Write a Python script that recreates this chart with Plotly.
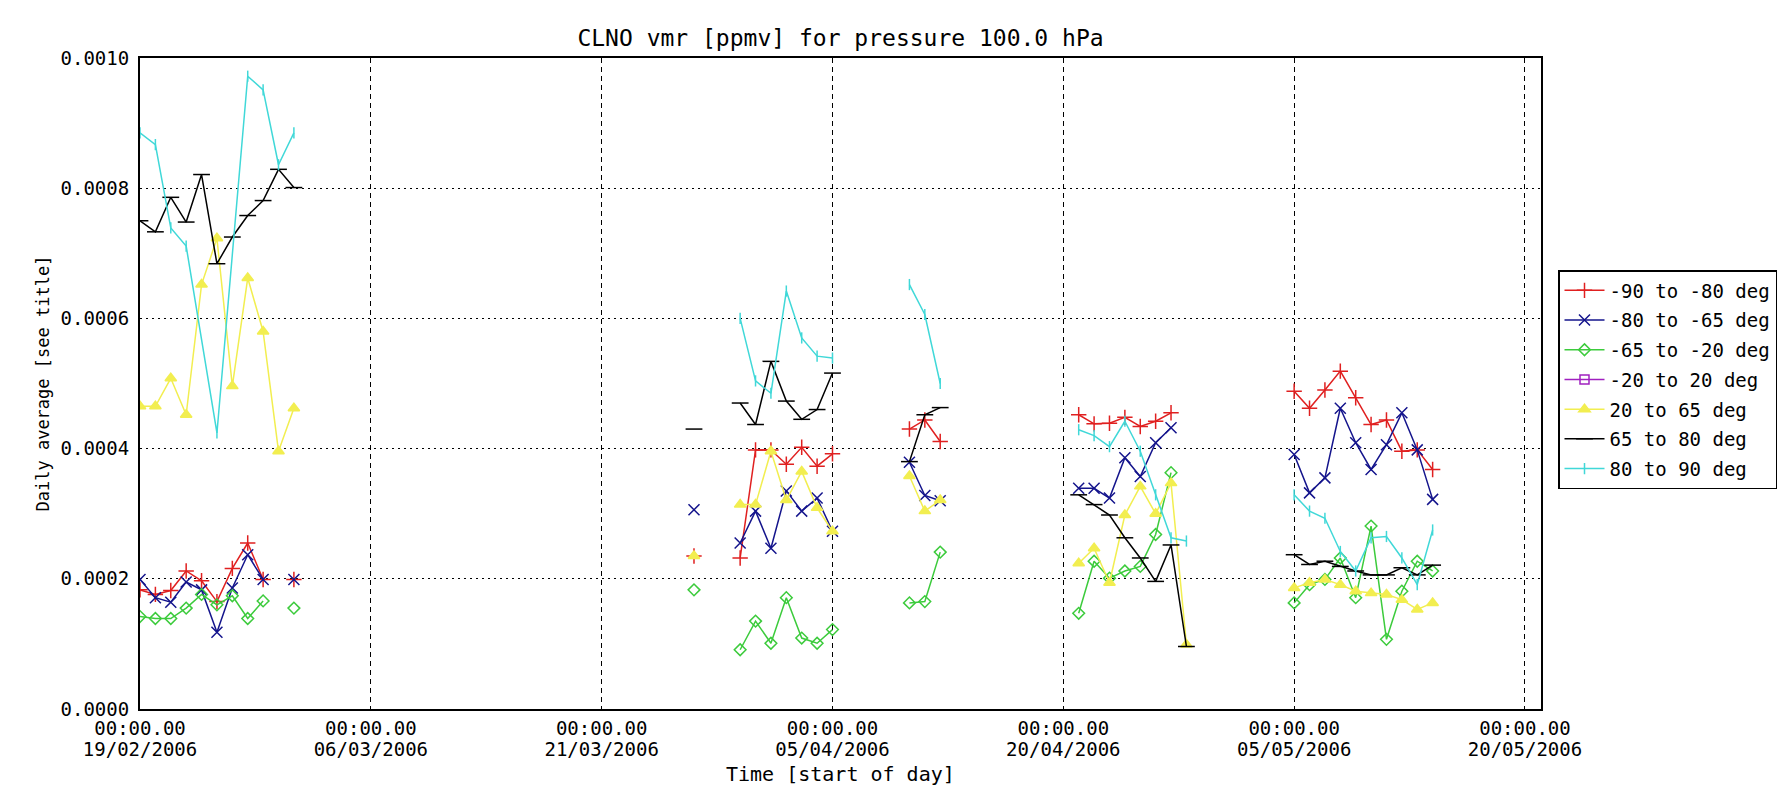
import plotly.graph_objects as go
import pandas as pd

START = "2006-02-19"
N = None

# day offsets from 19/02/2006 (None = break in the line)
red_days = [0,1,2,3,4,5,6,7,8,N,10,N,36,N,39,40,41,42,43,44,45,N,50,51,52,N,61,62,63,64,65,66,67,N,75,76,77,78,79,80,81,82,83,84]
red_vals = [0.000183,0.000176,0.000182,0.000212,0.000197,0.000165,0.000216,0.000255,0.000199,N,0.000199,N,
            0.000235,N,0.000232,0.000398,0.000398,0.000376,0.000402,0.000373,0.000392,N,
            0.000430,0.000444,0.000411,N,0.000452,0.000438,0.000439,0.000448,0.000434,0.000442,0.000455,N,
            0.000488,0.000462,0.000490,0.000519,0.000478,0.000437,0.000444,0.000396,0.000398,0.000368]

blue_days = red_days
blue_vals = [0.000199,0.000171,0.000164,0.000195,0.000183,0.000118,0.000186,0.000237,0.000199,N,0.000199,N,
             0.000306,N,0.000255,0.000304,0.000247,0.000335,0.000304,0.000324,0.000273,N,
             0.000379,0.000328,0.000320,N,0.000339,0.000339,0.000324,0.000386,0.000357,0.000409,0.000432,N,
             0.000391,0.000332,0.000355,0.000462,0.000409,0.000368,0.000406,0.000455,0.000398,0.000322]

green_days = red_days
green_vals = [0.000142,0.000139,0.000139,0.000155,0.000176,0.000160,0.000174,0.000139,0.000166,N,0.000155,N,
              0.000183,N,0.000091,0.000135,0.000101,0.000171,0.000109,0.000101,0.000122,N,
              0.000163,0.000165,0.000241,N,0.000147,0.000227,0.000201,0.000212,0.000219,0.000268,0.000363,N,
              0.000163,0.000191,0.000199,0.000232,0.000171,0.000281,0.000107,0.000181,0.000227,0.000212]

# the -20 to 20 deg band has no valid values in this plot (legend entry only)
purple_days = [N]
purple_vals = [N]

yellow_days = [0,1,2,3,4,5,6,7,8,9,10,N,36,N,39,40,41,42,43,44,45,N,50,51,52,N,61,62,63,64,65,66,67,68,N,75,76,77,78,79,80,81,82,83,84]
yellow_vals = [0.000465,0.000465,0.000508,0.000452,0.000652,0.000723,0.000496,0.000662,0.000580,0.000396,0.000462,N,
               0.000235,N,0.000314,0.000314,0.000396,0.000321,0.000365,0.000309,0.000273,N,
               0.000358,0.000304,0.000321,N,0.000224,0.000247,0.000194,0.000298,0.000342,0.000300,0.000347,0.000099,N,
               0.000186,0.000194,0.000199,0.000191,0.000181,0.000178,0.000176,0.000168,0.000153,0.000163]

black_days = yellow_days
black_vals = [0.000750,0.000733,0.000786,0.000748,0.000821,0.000684,0.000725,0.000758,0.000781,0.000829,0.000801,N,
              0.000430,N,0.000470,0.000437,0.000534,0.000473,0.000445,0.000460,0.000516,N,
              0.000380,0.000452,0.000463,N,0.000329,0.000314,0.000298,0.000263,0.000232,0.000196,0.000252,0.000096,N,
              0.000237,0.000222,0.000227,0.000219,0.000212,0.000206,0.000206,0.000217,0.000206,0.000221]

cyan_days = [0,1,2,3,5,7,8,9,10,N,39,40,41,42,43,44,45,N,50,51,52,N,61,62,63,64,65,66,67,68,N,75,76,77,78,79,80,81,82,83,84]
cyan_vals = [0.000885,0.000867,0.000739,0.000711,0.000424,0.000972,0.000951,0.000836,0.000885,N,
             0.000600,0.000504,0.000485,0.000642,0.000570,0.000542,0.000539,N,
             0.000652,0.000606,0.000500,N,0.000429,0.000420,0.000403,0.000442,0.000396,0.000329,0.000263,0.000258,N,
             0.000329,0.000304,0.000293,0.000242,0.000212,0.000263,0.000265,0.000232,0.000191,0.000275]

series_names = ["-90 to -80 deg", "-80 to -65 deg", "-65 to -20 deg", "-20 to 20 deg",
                "20 to 65 deg", "65 to 80 deg", "80 to 90 deg"]

tick_dates = ["2006-02-19", "2006-03-06", "2006-03-21", "2006-04-05",
              "2006-04-20", "2006-05-05", "2006-05-20"]
tick_time_text = ["00:00.00"] * 7
tick_date_text = ["19/02/2006", "06/03/2006", "21/03/2006", "05/04/2006",
                  "20/04/2006", "05/05/2006", "20/05/2006"]
y_ticks = [0.0, 0.0002, 0.0004, 0.0006, 0.0008, 0.0010]

FONT = "DejaVu Sans Mono"
start = pd.Timestamp(START)


def to_dates(days):
    return [None if d is None else (start + pd.Timedelta(days=d)) for d in days]


styles = [
    dict(color="#E02020", symbol="cross-thin", size=11),
    dict(color="#14148C", symbol="x-thin", size=11),
    dict(color="#3CCB3C", symbol="diamond-open", size=9),
    dict(color="#A020C0", symbol="square-open", size=9),
    dict(color="#F2EE50", symbol="triangle-up", size=10),
    dict(color="#000000", symbol="line-ew", size=12),
    dict(color="#40D8D8", symbol="line-ns", size=8),
]
data = [(red_days, red_vals), (blue_days, blue_vals), (green_days, green_vals),
        (purple_days, purple_vals), (yellow_days, yellow_vals), (black_days, black_vals),
        (cyan_days, cyan_vals)]

fig = go.Figure()
for name, (days, vals), st in zip(series_names, data, styles):
    fig.add_trace(go.Scatter(
        x=to_dates(days), y=vals, name=name, legendgroup=name, showlegend=True,
        mode="lines+markers", connectgaps=False,
        line=dict(color=st["color"], width=1.5),
        marker=dict(symbol=st["symbol"], size=st["size"], color=st["color"],
                    line=dict(color=st["color"], width=1.5)),
    ))

plot_l, plot_r, plot_t, plot_b = 132, 252, 50, 86
plot_w = 1785 - plot_l - plot_r
plot_h = 787 - plot_t - plot_b
x_range = ["2006-02-19", "2006-05-21 01:00"]
TICK_SIZE = 19

fig.update_layout(
    width=1785, height=787, autosize=False,
    margin=dict(l=plot_l, r=plot_r, t=plot_t, b=plot_b),
    paper_bgcolor="white", plot_bgcolor="white",
    font=dict(family=FONT, size=17, color="black"),
    title=dict(text="CLNO vmr [ppmv] for pressure 100.0 hPa", x=0.5, xref="paper", xanchor="center",
               y=1 - 30 / 787, yref="container", yanchor="middle",
               font=dict(family=FONT, size=23, color="black")),
    showlegend=True,
    legend=dict(x=(1550 - plot_l) / plot_w, y=(701 - 262) / plot_h, xanchor="left", yanchor="top",
                bordercolor="black", borderwidth=1.5, bgcolor="white",
                font=dict(family=FONT, size=19), tracegroupgap=2, itemwidth=40),
    # lower line of the tick labels (date) + grid + frame
    xaxis=dict(type="date", range=x_range,
               tickvals=tick_dates, ticktext=tick_date_text, tickangle=0,
               showgrid=True, gridcolor="black", gridwidth=1, griddash="5px,4px",
               showline=True, linecolor="black", linewidth=2, mirror=True,
               ticks="", zeroline=False, ticklabelstandoff=22,
               tickfont=dict(family=FONT, size=TICK_SIZE)),
    # upper line of the tick labels (time of day)
    xaxis2=dict(type="date", range=x_range, overlaying="x", matches="x", anchor="y", side="bottom",
                tickvals=tick_dates, ticktext=tick_time_text, tickangle=0,
                showgrid=False, showline=False, ticks="", zeroline=False,
                ticklabelstandoff=6, tickfont=dict(family=FONT, size=TICK_SIZE)),
    yaxis=dict(range=[0, 0.0010], tickvals=y_ticks, tickformat=".4f",
               showgrid=True, gridcolor="black", gridwidth=1, griddash="2px,4px",
               showline=True, linecolor="black", linewidth=2, mirror=True,
               ticks="", zeroline=False, ticklabelstandoff=5,
               tickfont=dict(family=FONT, size=19)),
    annotations=[
        dict(text="Time [start of day]", x=0.5, xref="paper", xanchor="center",
             y=(701 - 766) / plot_h, yref="paper", yanchor="middle",
             showarrow=False, font=dict(family=FONT, size=20)),
        dict(text="Daily average [see title]", textangle=-90,
             x=(34 - plot_l) / plot_w, xref="paper", xanchor="center",
             y=0.5, yref="paper", yanchor="middle",
             showarrow=False, font=dict(family=FONT, size=17)),
    ],
)
# an invisible trace on the second x axis so that its tick labels are drawn
fig.add_trace(go.Scatter(x=[], y=[], xaxis="x2", yaxis="y", showlegend=False, hoverinfo="skip"))

fig.write_html("out.html", config={"displayModeBar": False})
